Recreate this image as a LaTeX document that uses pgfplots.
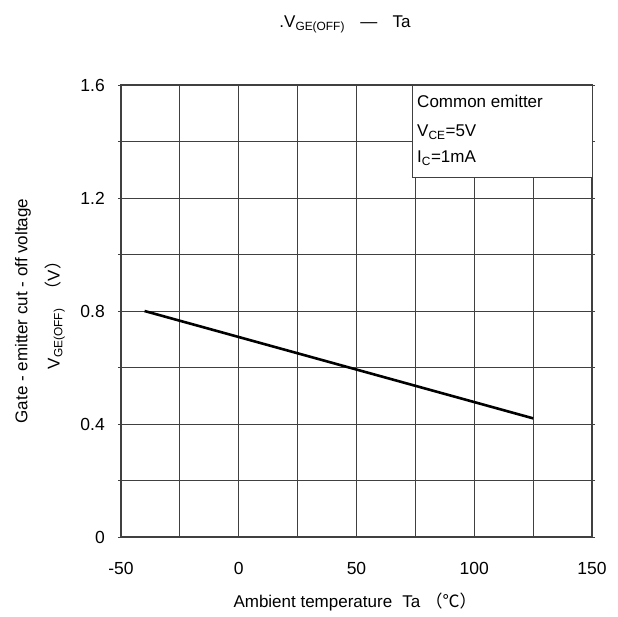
\documentclass[border=0pt]{standalone}
\usepackage{pgfplots}
\pgfplotsset{compat=1.18}
\usepackage{fontspec}
\setmainfont{Liberation Sans}
\newfontfamily\cjk{Noto Sans CJK JP}
\definecolor{axgray}{HTML}{404040}
\begin{document}
\begin{tikzpicture}
\begin{axis}[
  scale only axis,
  width=471pt, height=452pt,
  xmin=-50, xmax=150, ymin=0, ymax=1.6,
  xtick={-50,-25,...,150},
  xticklabels={-50,,0,,50,,100,,150},
  ytick={0,0.2,...,1.6},
  yticklabels={0,,0.4,,0.8,,1.2,,1.6},
  grid=major,
  grid style={axgray, line width=0.8pt},
  axis line style={axgray, line width=1.6pt},
  tick align=outside,
  x tick style={draw=none},
  y tick style={axgray, line width=0.8pt},
  major tick length=3pt,
  tick label style={font=\fontsize{17.5}{20}\selectfont},
  /pgf/number format/assume math mode=true,
  xticklabel style={anchor=base, yshift=-35pt},
  yticklabel style={anchor=east, inner sep=0pt, xshift=-13pt},
  clip=false,
]
\addplot[black, line width=2.6pt] coordinates {(-40,0.80) (125,0.42)};
\draw[axgray, line width=0.8pt, fill=white] (axis cs:73.6,1.6) rectangle (axis cs:150,1.274);
\node[anchor=base west, inner sep=0pt, font=\fontsize{17}{20}\selectfont] at (axis cs:75.7,1.519) {Common emitter};
\node[anchor=base west, inner sep=0pt, font=\fontsize{17}{20}\selectfont] at (axis cs:75.7,1.416) {V\textsubscript{CE}=5V};
\node[anchor=base west, inner sep=0pt, font=\fontsize{17}{20}\selectfont] at (axis cs:75.7,1.324) {I\textsubscript{C}=1mA};
\end{axis}
\path[use as bounding box] (0,0) ++(-121pt,-80pt) rectangle ++(618pt,617pt);
\node[anchor=base, inner sep=0pt, font=\fontsize{17}{20}\selectfont] at (224pt,509pt) {.V\textsubscript{GE(OFF)}\hspace{0.9em}—\hspace{0.9em}Ta};
\node[anchor=base, inner sep=0pt, font=\fontsize{17}{20}\selectfont] at (234pt,-71pt) {Ambient temperature\hspace{0.6em}Ta\hspace{0.3em}{\cjk （℃）}};
\node[rotate=90, anchor=center, inner sep=0pt, font=\fontsize{17}{20}\selectfont] at (-98pt,226pt) {Gate - emitter cut - off voltage};
\node[rotate=90, anchor=center, inner sep=0pt, font=\fontsize{17}{20}\selectfont] at (-66pt,226pt) {V\textsubscript{GE(OFF)}\hspace{0.6em}{\cjk （}V{\cjk ）}};
\end{tikzpicture}
\end{document}
